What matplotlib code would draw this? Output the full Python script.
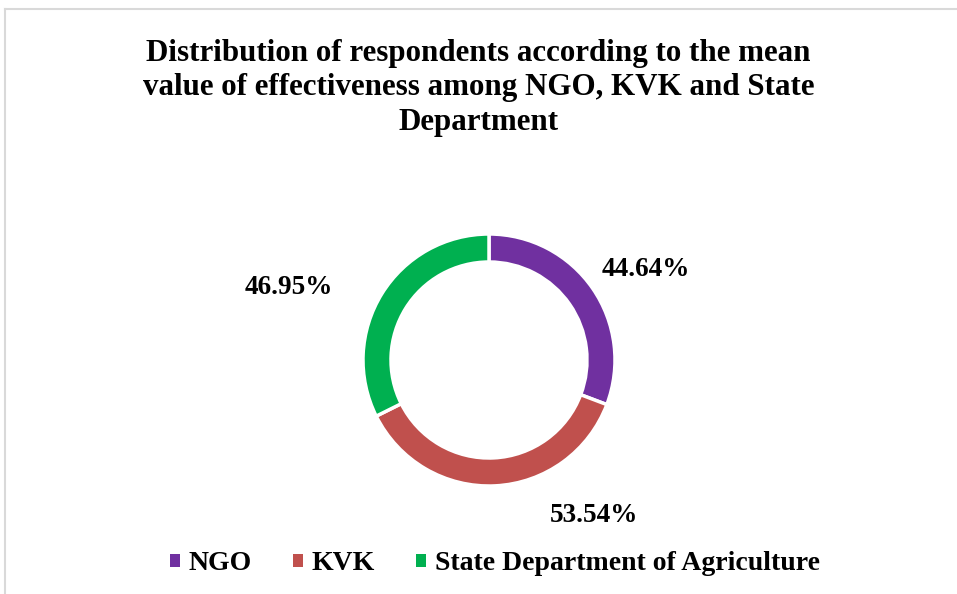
import numpy as np
import matplotlib

matplotlib.use("Agg")
import matplotlib.pyplot as plt
from matplotlib.lines import Line2D
from matplotlib.patches import Patch

categories = ["NGO", "KVK", "State Department of Agriculture"]
values = [44.64, 53.54, 46.95]
value_labels = ["44.64%", "53.54%", "46.95%"]
colors = ["#7030A0", "#C0504D", "#00B050"]
title = ("Distribution of respondents according to the mean\n"
         "value of effectiveness among NGO, KVK and State\n"
         "Department")

W, H = 957, 594
plt.rcParams["font.family"] = ["Liberation Serif", "DejaVu Serif"]

fig = plt.figure(figsize=(W / 100, H / 100), dpi=100)
ax = fig.add_axes([0, 0, 1, 1])

cx, cy, r = 489, H - 360, 126
wedges, _ = ax.pie(
    values,
    colors=colors,
    startangle=90,
    counterclock=False,
    center=(cx, cy),
    radius=r,
    wedgeprops=dict(width=28, edgecolor="white", linewidth=2.5),
    frame=True,
)
ax.set_xlim(0, W)
ax.set_ylim(0, H)
ax.set_aspect("equal")
ax.axis("off")

# label placement (angle in deg, distance in px) — mimics Excel's outside-end labels
label_pos = [(30, 181), (-56, 187), (160, 213)]
for txt, (ang, dist) in zip(value_labels, label_pos):
    a = np.deg2rad(ang)
    ax.text(cx + dist * np.cos(a), cy + dist * np.sin(a), txt,
            ha="center", va="center", fontsize=19.5, fontweight="bold")

fig.text(0.5, 1 - 88 / H, title, ha="center", va="center",
         fontsize=22.3, fontweight="bold", linespacing=1.27)

handles = [Patch(facecolor=c, edgecolor="none") for c in colors]
fig.legend(handles, categories, loc="center", bbox_to_anchor=(0.517, 1 - 564 / H),
           ncol=3, frameon=False, handlelength=0.36, handleheight=0.36,
           handletextpad=0.3, columnspacing=1.5,
           prop=dict(size=20, weight="bold"))

# chart-area border (top and left edges visible)
fig.add_artist(Line2D([5 / W, 1], [1 - 9 / H] * 2, color="#d9d9d9", lw=1.5))
fig.add_artist(Line2D([5 / W] * 2, [0, 1 - 9 / H], color="#d9d9d9", lw=1.5))

fig.savefig("out.png", dpi=100)
